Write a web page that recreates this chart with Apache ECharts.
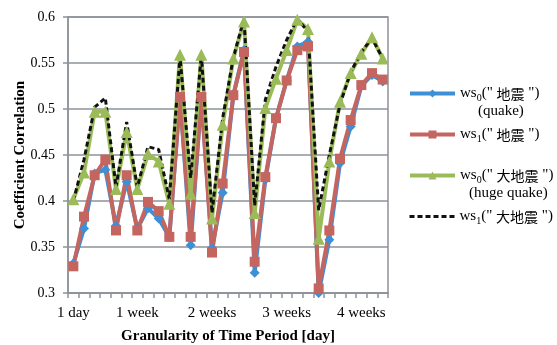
<!DOCTYPE html>
<html>
<head>
<meta charset="utf-8">
<script src="https://cdn.jsdelivr.net/npm/echarts@6/dist/echarts.min.js"></script>
<style>
  html, body { margin: 0; padding: 0; background: #fff; }
  #chart { width: 557px; height: 345px; }
</style>
</head>
<body>
<div id="chart"></div>
<script>
// granularity in days, one category per day
const days = [1, 2, 3, 4, 5, 6, 7, 8, 9, 10, 11, 12, 13, 14, 15, 16, 17, 18, 19, 20, 21, 22, 23, 24, 25, 26, 27, 28, 29, 30];
const tickLabels = { 1: '1 day', 7: '1 week', 14: '2 weeks', 21: '3 weeks', 28: '4 weeks' };

// ws0("地震") (quake)
const ws0Quake = [0.332, 0.370, 0.430, 0.434, 0.373, 0.421, 0.370, 0.392, 0.381, 0.361,
                  0.513, 0.352, 0.513, 0.349, 0.409, 0.515, 0.564, 0.322, 0.423, 0.490,
                  0.531, 0.568, 0.573, 0.300, 0.358, 0.441, 0.481, 0.525, 0.537, 0.530];
// ws1("地震")
const ws1Quake = [0.329, 0.383, 0.428, 0.445, 0.368, 0.428, 0.368, 0.399, 0.389, 0.361,
                  0.513, 0.361, 0.513, 0.344, 0.419, 0.515, 0.562, 0.334, 0.426, 0.490,
                  0.531, 0.564, 0.568, 0.305, 0.368, 0.446, 0.488, 0.526, 0.539, 0.532];
// ws0("大地震") (huge quake)
const ws0Huge = [0.402, 0.431, 0.497, 0.497, 0.413, 0.475, 0.413, 0.451, 0.443, 0.397,
                 0.559, 0.408, 0.559, 0.381, 0.483, 0.555, 0.595, 0.387, 0.501, 0.533,
                 0.564, 0.597, 0.587, 0.359, 0.443, 0.508, 0.539, 0.560, 0.578, 0.555];
// ws1("大地震")
const ws1Huge = [0.400, 0.445, 0.502, 0.512, 0.415, 0.486, 0.415, 0.459, 0.456, 0.402,
                 0.557, 0.425, 0.559, 0.387, 0.490, 0.556, 0.598, 0.395, 0.510, 0.546,
                 0.575, 0.598, 0.584, 0.390, 0.450, 0.505, 0.540, 0.562, 0.577, 0.555];

const serif = "'Liberation Serif', 'Times New Roman', serif";
const cjk = "'Noto Sans CJK JP', 'Noto Sans CJK SC', sans-serif";
const gray = '#8d9399';

const rich = {
  t: { fontFamily: serif, fontSize: 15, color: '#000', lineHeight: 18 },
  s: { fontFamily: serif, fontSize: 10, color: '#000', padding: [9, 0, 0, 0] },
  c: { fontFamily: cjk, fontSize: 14, color: '#000', lineHeight: 18 }
};

function legendAt(name, top, word, hideSymbol) {
  const lg = {
    data: [name],
    left: 403,
    top: top,
    orient: 'vertical',
    itemWidth: 45,
    itemHeight: 10,
    itemGap: 4,
    lineStyle: { width: hideSymbol ? 3 : 4 },
    formatter: function () {
      return '{t|ws}{s|' + (name.indexOf('ws0') === 0 ? '0' : '1') + '}{t|(" }{c|' + word + '}{t| ")}';
    },
    textStyle: { rich: rich }
  };
  if (hideSymbol) lg.itemStyle = { color: 'rgba(0,0,0,0)', borderWidth: 0 };
  return lg;
}

const chart = echarts.init(document.getElementById('chart'));

chart.setOption({
  animation: false,
  backgroundColor: '#fff',
  grid: {
    left: 68, right: 169, top: 17, bottom: 52,
    containLabel: false, outerBoundsMode: 'none',
    show: true, borderColor: gray, borderWidth: 1.5
  },
  legend: [
    legendAt('ws0 quake', 81, '地震'),
    legendAt('ws1 quake', 122, '地震'),
    legendAt('ws0 huge', 163, '大地震'),
    legendAt('ws1 huge', 204, '大地震', true)
  ],
  graphic: [
    { type: 'text', left: 478, top: 104, style: { text: '(quake)', font: '15px ' + serif, fill: '#000' } },
    { type: 'text', left: 469, top: 186, style: { text: '(huge quake)', font: '15px ' + serif, fill: '#000' } }
  ],
  xAxis: {
    type: 'category',
    data: days,
    boundaryGap: true,
    name: 'Granularity of Time Period [day]',
    nameLocation: 'middle',
    nameGap: 36,
    nameTextStyle: { fontFamily: serif, fontWeight: 'bold', fontSize: 15, color: '#000' },
    axisLine: { lineStyle: { color: gray, width: 1.5 } },
    axisTick: { show: true, interval: 0, length: 5, lineStyle: { color: gray, width: 1.5 } },
    axisLabel: {
      interval: function (idx, val) { return tickLabels[val] !== undefined; },
      formatter: function (val) { return tickLabels[val] || ''; },
      fontFamily: serif, fontSize: 15, color: '#000', margin: 13
    },
    splitLine: { show: false }
  },
  yAxis: {
    type: 'value',
    min: 0.3, max: 0.6, interval: 0.05,
    name: 'Coefficient Correlation',
    nameLocation: 'middle',
    nameGap: 40,
    nameMoveOverlap: false,
    nameTextStyle: { fontFamily: serif, fontWeight: 'bold', fontSize: 15, color: '#000' },
    axisLine: { show: true, lineStyle: { color: gray, width: 1.5 } },
    axisTick: { show: true, length: 5, lineStyle: { color: gray, width: 1.5 } },
    axisLabel: {
      fontFamily: serif, fontSize: 14, color: '#000', margin: 13,
      formatter: function (v) { return String(+v.toFixed(2)); }
    },
    splitLine: { lineStyle: { color: gray, width: 1.5 } }
  },
  series: [
    {
      name: 'ws0 quake', type: 'line', data: ws0Quake,
      symbol: 'diamond', symbolSize: 10, showAllSymbol: true,
      lineStyle: { color: '#3d8fd6', width: 4 },
      itemStyle: { color: '#3d8fd6' }
    },
    {
      name: 'ws1 quake', type: 'line', data: ws1Quake,
      symbol: 'rect', symbolSize: 10, showAllSymbol: true,
      lineStyle: { color: '#c46560', width: 4 },
      itemStyle: { color: '#c46560' }
    },
    {
      name: 'ws0 huge', type: 'line', data: ws0Huge,
      symbol: 'triangle', symbolSize: 12, showAllSymbol: true,
      lineStyle: { color: '#9bbb59', width: 4 },
      itemStyle: { color: '#9bbb59' }
    },
    {
      name: 'ws1 huge', type: 'line', data: ws1Huge,
      symbol: 'none',
      lineStyle: { color: '#111', width: 3, type: [5, 3] },
      itemStyle: { color: '#111' }
    }
  ]
});
</script>
</body>
</html>
